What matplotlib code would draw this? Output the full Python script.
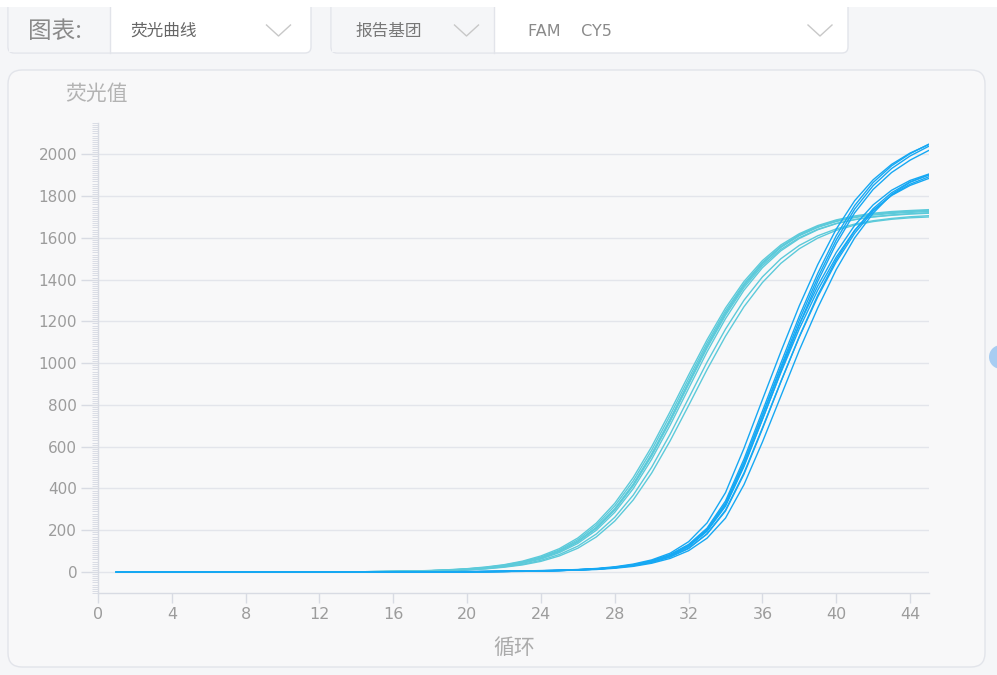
import matplotlib
matplotlib.use('Agg')
import matplotlib.pyplot as plt
from matplotlib.patches import FancyBboxPatch, Rectangle, Circle
from matplotlib.ticker import MultipleLocator

plt.rcParams['font.family'] = ['DejaVu Sans', 'Noto Sans CJK SC']
CJK = ['Noto Sans CJK SC', 'DejaVu Sans']

# --- data (fluorescence vs cycle) ---
cycles = list(range(1, 46))

# light cyan channel (plateau ~1700-1735)
fam_curves = [
    [0, 0, 0, 0, 0, 0, 0, 0, 0, 0, 0, 0, 0, 1,
     2, 3, 4, 6, 9, 13, 20, 30, 44, 66, 98, 144, 209, 297, 413, 556, 721, 898,
     1072, 1229, 1362, 1467, 1545, 1601, 1641, 1669, 1687, 1700, 1708, 1714, 1718],
    [0, 0, 0, 0, 0, 0, 0, 0, 0, 0, 0, 0, 0, 1,
     2, 3, 5, 7, 10, 15, 22, 33, 49, 72, 106, 155, 224, 316, 436, 583, 750, 926,
     1097, 1251, 1380, 1482, 1558, 1614, 1654, 1682, 1701, 1714, 1722, 1728, 1732],
    [0, 0, 0, 0, 0, 0, 0, 0, 0, 0, 0, 0, 0, 1,
     2, 3, 4, 6, 9, 14, 21, 31, 46, 68, 101, 148, 214, 303, 421, 566, 732, 910,
     1084, 1240, 1372, 1476, 1554, 1610, 1650, 1678, 1697, 1709, 1717, 1722, 1726],
    [0, 0, 0, 0, 0, 0, 0, 0, 0, 0, 0, 0, 0, 1,
     1, 2, 4, 5, 8, 12, 18, 28, 42, 62, 93, 137, 200, 286, 399, 540, 703, 879,
     1054, 1213, 1349, 1457, 1538, 1597, 1639, 1668, 1688, 1701, 1710, 1716, 1720],
    [0, 0, 0, 0, 0, 0, 0, 0, 0, 0, 0, 0, 0, 1,
     2, 3, 4, 6, 9, 13, 20, 30, 45, 67, 99, 146, 211, 300, 417, 561, 727, 905,
     1080, 1238, 1372, 1478, 1557, 1614, 1654, 1682, 1701, 1714, 1722, 1727, 1730],
    [0, 0, 0, 0, 0, 0, 0, 0, 0, 0, 0, 0, 0, 1,
     1, 2, 3, 5, 7, 11, 16, 25, 37, 56, 84, 124, 182, 262, 368, 502, 660, 832,
     1005, 1163, 1301, 1413, 1500, 1564, 1610, 1643, 1666, 1682, 1693, 1701, 1706],
    [0, 0, 0, 0, 0, 0, 0, 0, 0, 0, 0, 0, 0, 1,
     1, 2, 3, 4, 6, 10, 15, 23, 34, 51, 77, 114, 168, 244, 345, 474, 628, 797,
     969, 1129, 1270, 1386, 1478, 1548, 1599, 1636, 1661, 1678, 1689, 1696, 1700],
    [0, 0, 0, 0, 0, 0, 0, 0, 0, 0, 0, 0, 0, 1,
     2, 3, 5, 7, 11, 16, 24, 35, 52, 77, 112, 163, 234, 329, 452, 600, 768, 943,
     1112, 1264, 1391, 1491, 1566, 1620, 1659, 1686, 1705, 1718, 1726, 1731, 1735],
]

# blue channel (later rise, plateau ~1880-2050)
cy5_curves = [
    [0, 0, 0, 0, 0, 0, 0, 0, 0, 0, 0, 0, 0, 0, 0, 0,
     1, 1, 1, 2, 2, 3, 4, 6, 8,
     11, 15, 23, 35, 54, 84, 132, 210, 340, 540, 770, 1000, 1225, 1430, 1610,
     1755, 1865, 1945, 2003, 2048],
    [0, 0, 0, 0, 0, 0, 0, 0, 0, 0, 0, 0, 0, 0, 0, 0,
     1, 1, 1, 1, 2, 3, 4, 5, 7,
     10, 14, 21, 32, 50, 78, 122, 195, 315, 505, 730, 960, 1185, 1392, 1572,
     1720, 1832, 1913, 1972, 2018],
    [0, 0, 0, 0, 0, 0, 0, 0, 0, 0, 0, 0, 0, 0, 0, 0,
     1, 1, 2, 2, 3, 4, 5, 7, 9,
     12, 17, 25, 38, 58, 90, 145, 235, 380, 592, 825, 1055, 1275, 1472, 1642,
     1778, 1878, 1952, 2006, 2046],
    [0, 0, 0, 0, 0, 0, 0, 0, 0, 0, 0, 0, 0, 0, 0, 0,
     1, 1, 1, 2, 2, 3, 4, 6, 8,
     11, 15, 22, 34, 52, 81, 128, 205, 330, 525, 750, 975, 1185, 1370, 1530,
     1660, 1758, 1828, 1875, 1905],
    [0, 0, 0, 0, 0, 0, 0, 0, 0, 0, 0, 0, 0, 0, 0, 0,
     0, 1, 1, 1, 2, 3, 4, 5, 7,
     10, 14, 20, 30, 46, 72, 112, 183, 296, 474, 690, 912, 1125, 1318, 1485,
     1622, 1728, 1805, 1857, 1892],
    [0, 0, 0, 0, 0, 0, 0, 0, 0, 0, 0, 0, 0, 0, 0, 0,
     1, 1, 1, 1, 2, 3, 4, 5, 7,
     10, 14, 21, 32, 50, 78, 124, 198, 320, 510, 732, 955, 1165, 1350, 1508,
     1636, 1733, 1803, 1851, 1884],
    [0, 0, 0, 0, 0, 0, 0, 0, 0, 0, 0, 0, 0, 0, 0, 0,
     0, 1, 1, 1, 2, 2, 3, 5, 7,
     9, 12, 18, 27, 42, 65, 102, 162, 258, 418, 622, 842, 1062, 1265, 1448,
     1600, 1718, 1808, 1866, 1902],
    [0, 0, 0, 0, 0, 0, 0, 0, 0, 0, 0, 0, 0, 0, 0, 0,
     1, 1, 1, 2, 2, 3, 4, 6, 8,
     11, 15, 22, 33, 51, 80, 126, 202, 326, 522, 752, 982, 1206, 1410, 1590,
     1738, 1850, 1932, 1992, 2038],
    [0, 0, 0, 0, 0, 0, 0, 0, 0, 0, 0, 0, 0, 0, 0, 0,
     1, 1, 1, 1, 2, 3, 4, 5, 7,
     10, 14, 21, 31, 47, 73, 115, 182, 292, 468, 685, 910, 1128, 1326, 1496,
     1635, 1740, 1816, 1868, 1900],
]

x_ticks = [0, 4, 8, 12, 16, 20, 24, 28, 32, 36, 40, 44]
y_ticks = [0, 200, 400, 600, 800, 1000, 1200, 1400, 1600, 1800, 2000]

for c in fam_curves + cy5_curves:
    assert len(c) == len(cycles), len(c)

FAM_COLOR = '#5ccada'
CY5_COLOR = '#16a8f3'
GRID = '#e3e5eb'
TICK = '#d8dbe3'
TXT = '#9c9c9c'

fig = plt.figure(figsize=(9.97, 6.75), dpi=100, facecolor='#f5f6f8')

# --- page decorations in pixel coordinates ---
bg = fig.add_axes([0, 0, 1, 1], zorder=0)
bg.set_xlim(0, 997)
bg.set_ylim(675, 0)
bg.axis('off')

def rbox(x0, y0, x1, y1, fc, ec='#e2e4ea', r=6, z=1):
    bg.add_patch(FancyBboxPatch((x0, y0), x1 - x0, y1 - y0,
                                boxstyle=f'round,pad=0,rounding_size={r}',
                                fc=fc, ec=ec, lw=1, zorder=z))

# selector bar
rbox(8, -10, 311, 53, '#ffffff')
bg.add_patch(Rectangle((9, -10), 101, 62, fc='#f5f6f8', ec='none', zorder=2))
bg.plot([110, 110], [0, 53], color='#e2e4ea', lw=1, zorder=3)
rbox(331, -10, 848, 53, '#ffffff')
bg.add_patch(Rectangle((332, -10), 162, 62, fc='#f5f6f8', ec='none', zorder=2))
bg.plot([494, 494], [0, 53], color='#e2e4ea', lw=1, zorder=3)
bg.add_patch(Rectangle((0, 0), 997, 7, fc='#ffffff', ec='none', zorder=4))

bg.text(28, 31, '图表:', family=CJK, fontsize=17, color='#8a8a8a', va='center', zorder=5)
bg.text(130, 31, '荧光曲线', family=CJK, fontsize=12, color='#666666', va='center', zorder=5)
bg.text(355, 31, '报告基团', family=CJK, fontsize=12, color='#777777', va='center', zorder=5)
bg.text(528, 31, 'FAM    CY5', fontsize=11.5, color='#8a8a8a', va='center', zorder=5)
for cx in (278.5, 466.5, 820):
    bg.plot([cx - 12, cx, cx + 12], [25, 36, 25], color='#c8c8c8', lw=1, zorder=5)

# chart panel
rbox(8, 70, 985, 667, '#f8f8f9', r=14)
bg.add_patch(Circle((1001, 357), 12, fc='#a8cdf2', ec='none', zorder=2))
bg.text(65, 94, '荧光值', family=CJK, fontsize=15, color='#b3b3b3', va='center')
bg.text(514, 648, '循环', family=CJK, fontsize=15, color='#ababab', va='center', ha='center')

# --- plot area ---
ax = fig.add_axes([98 / 997, (675 - 592.9) / 675, 830.5 / 997, 469.9 / 675],
                  facecolor='none', zorder=2)
for c in fam_curves:
    ax.plot(cycles, c, color=FAM_COLOR, lw=1.0)
for c in cy5_curves:
    ax.plot(cycles, c, color=CY5_COLOR, lw=1.0)

ax.set_xlim(0, 45)
ax.set_ylim(-100, 2150)
ax.set_xticks(x_ticks)
ax.set_yticks(y_ticks)
ax.yaxis.set_minor_locator(MultipleLocator(10))
ax.grid(axis='y', color=GRID, lw=1)
ax.set_axisbelow(True)
for s in ('top', 'right'):
    ax.spines[s].set_visible(False)
for s in ('left', 'bottom'):
    ax.spines[s].set_color(TICK)
    ax.spines[s].set_linewidth(1)
ax.tick_params(axis='y', which='major', length=12, width=1, color=TICK,
               labelsize=11, labelcolor=TXT, pad=3)
ax.tick_params(axis='y', which='minor', length=4.5, width=0.7, color='#dadde5')
ax.tick_params(axis='x', which='major', length=7.5, width=1, color=TICK,
               labelsize=11.5, labelcolor=TXT, pad=3)

fig.savefig('out.png', dpi=100, facecolor=fig.get_facecolor())
